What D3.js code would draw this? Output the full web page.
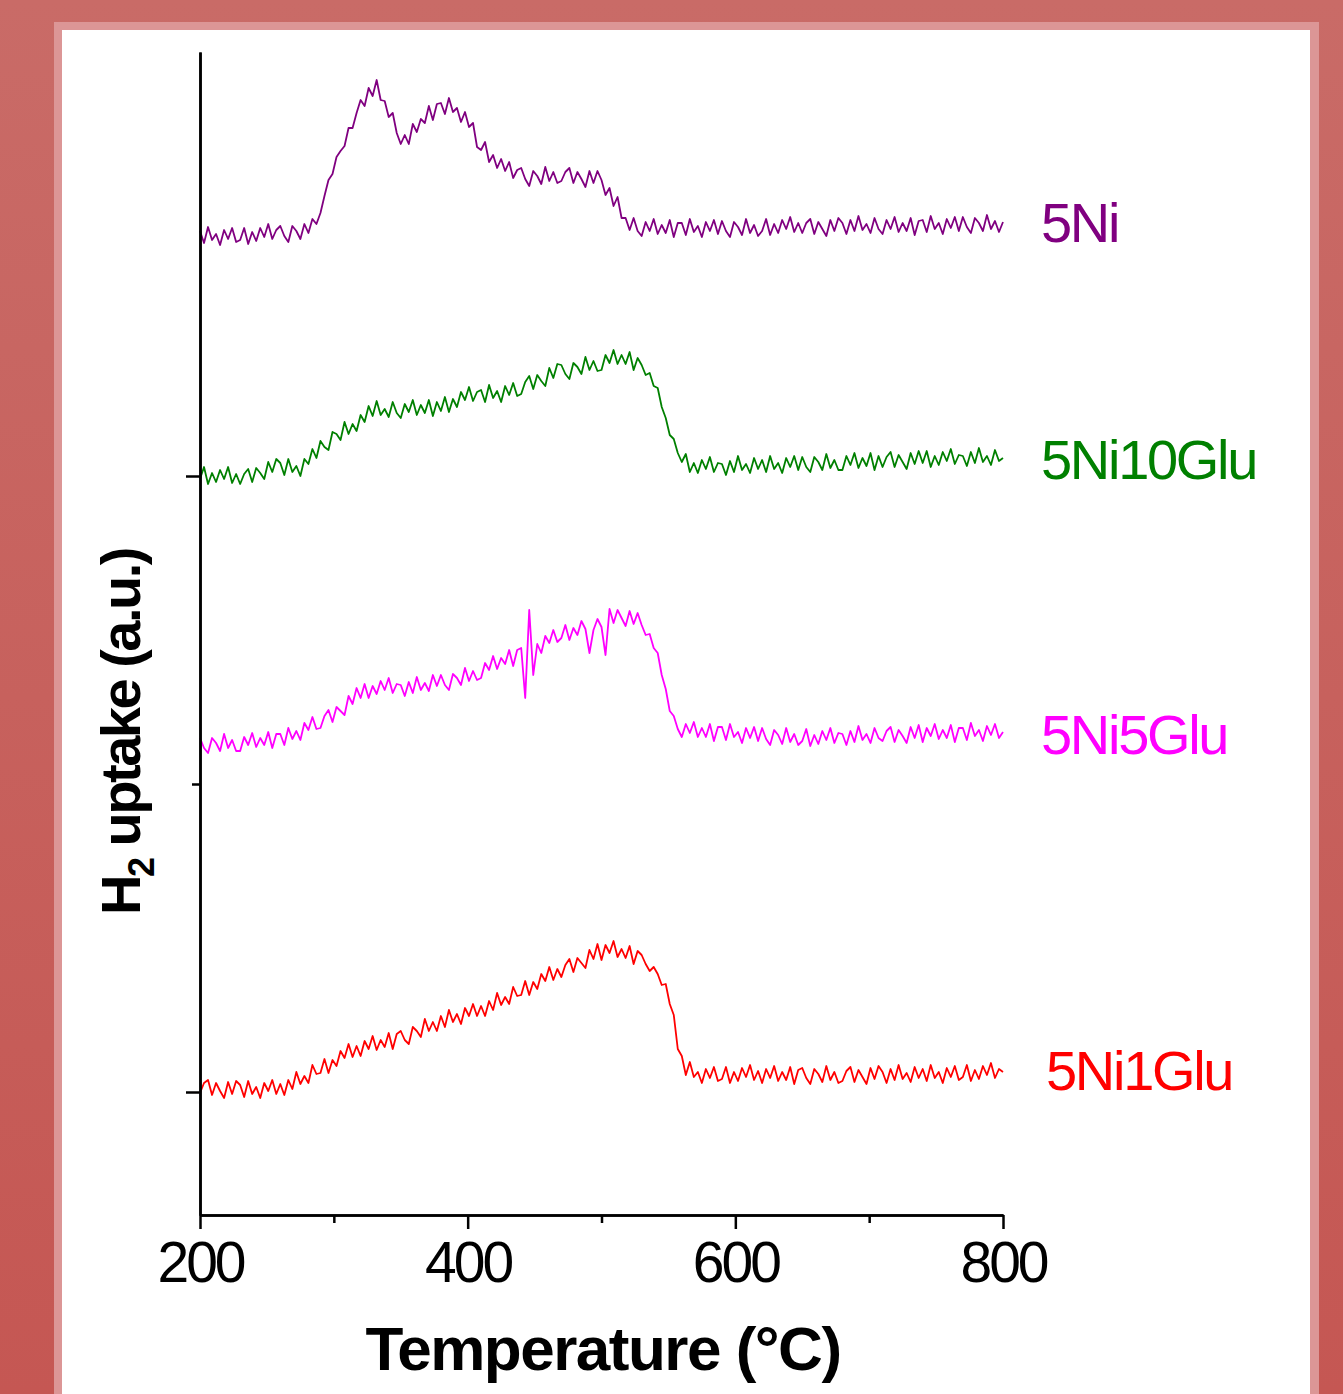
<!DOCTYPE html>
<html>
<head>
<meta charset="utf-8">
<script src="https://cdn.jsdelivr.net/npm/d3@7"></script>
<style>
  body { margin: 0; background: #fff; }
</style>
</head>
<body>
<div id="chart"></div>
<script>
	var w = 1343;
	var h = 1394;

	// samples, top to bottom
	var names = ["5Ni", "5Ni10Glu", "5Ni5Glu", "5Ni1Glu"];
	// vertical offset of each trace (a.u.)
	var offsets = [979, 740, 470, 128];
	var tRange = [200, 800];
	var xMajor = [200, 400, 600, 800];
	var xMinor = [300, 500, 700];
	var yMajor = [123, 739];
	var yMinor = [431];

	// H2 signal above each offset, read every 3 degC from 200 to 800
	var ni5 = [
		5,-7,9,-4,2,-9,6,-3,8,-6,
		-4,8,-8,4,-5,8,-1,12,-3,6,
		10,0,-6,10,5,-3,12,3,17,12,
		23,40,56,62,79,85,90,108,108,123,
		136,130,148,140,156,136,135,119,123,103,
		92,101,92,112,104,117,113,130,116,132,
		133,122,138,124,128,114,124,109,113,89,
		86,94,74,81,68,77,65,74,58,66,
		68,57,50,65,60,52,69,55,64,53,
		55,64,68,53,64,57,49,65,53,65,
		56,41,48,30,39,18,18,6,18,5,
		0,14,5,17,2,11,3,16,-1,13,
		13,1,17,4,10,-1,14,5,16,2,
		15,5,-1,14,9,1,17,3,11,0,
		5,17,1,12,3,16,7,19,4,13,
		3,13,17,2,14,7,0,16,5,18,
		13,2,16,5,20,6,12,3,18,7,
		2,16,7,19,4,13,5,18,1,15,
		16,4,20,7,13,2,17,8,19,5,
		19,9,3,18,13,5,21,7,15,4,
		14
	];
	var ni5glu10 = [
		-4,8,-9,2,-7,5,-4,8,-8,1,
		-9,1,6,-7,7,2,-4,13,3,16,
		12,0,16,3,9,-1,16,11,26,17,
		34,28,25,43,41,35,53,41,51,44,
		60,53,69,59,74,60,66,58,73,62,
		57,71,63,75,60,70,62,75,59,73,
		64,78,63,76,68,83,75,88,74,83,
		85,73,90,77,84,73,89,80,92,79,
		81,93,99,86,100,94,89,107,97,111,
		110,101,96,112,108,101,118,105,114,104,
		105,120,112,125,111,120,111,123,105,117,
		110,100,102,89,87,68,57,40,36,22,
		13,21,3,12,2,15,6,18,3,12,
		11,0,14,3,19,5,11,2,17,6,
		15,3,19,6,12,2,17,8,19,5,
		18,8,3,18,13,5,21,7,15,5,
		5,19,10,22,7,17,9,22,5,19,
		8,18,23,8,20,13,6,22,11,24,
		12,24,8,19,10,23,14,26,11,20,
		19,9,23,12,27,13,19,10,25,14,
		17
	];
	var ni5glu5 = [
		7,-3,-8,7,2,-6,11,-3,5,-6,
		-6,8,0,12,-2,7,0,13,-3,11,
		11,0,17,6,14,5,22,15,28,16,
		17,29,35,23,38,34,30,49,41,57,
		47,61,47,59,51,64,55,67,52,61,
		60,49,63,52,68,55,62,54,70,59,
		70,60,55,71,67,60,77,64,74,65,
		67,82,75,89,76,87,81,95,79,95,
		97,47,135,70,101,92,109,102,115,103,
		107,120,105,117,110,124,116,92,115,126,
		118,90,136,122,135,127,119,134,121,132,
		120,110,111,97,92,70,56,34,29,16,
		8,21,12,23,8,17,8,21,4,18,
		18,5,21,8,13,2,17,7,18,4,
		17,6,0,15,10,1,17,3,11,0,
		4,16,-1,10,1,14,5,17,2,12,
		11,0,14,3,19,5,11,2,17,7,
		4,14,18,3,15,9,2,18,7,20,
		3,17,9,21,6,15,7,20,3,17,
		17,5,22,9,15,4,19,10,21,7,
		13
	];
	var ni5glu1 = [
		-6,4,7,-8,4,-4,-11,5,-7,6,
		2,-10,6,-7,0,-11,4,-4,7,-7,
		3,-8,7,-2,15,3,11,4,22,13,
		14,28,14,27,21,36,29,43,30,41,
		31,46,38,51,37,47,40,54,38,53,
		56,47,43,60,56,50,68,56,65,56,
		71,60,77,65,73,63,79,71,83,71,
		81,71,86,77,94,82,90,83,100,91,
		92,106,92,105,98,113,106,120,107,118,
		110,122,128,115,129,124,119,137,128,143,
		127,142,134,146,130,138,129,141,123,136,
		132,123,116,120,113,102,103,83,72,38,
		31,12,25,10,15,4,18,9,20,6,
		8,20,4,15,6,19,10,22,7,16,
		4,18,9,21,6,15,7,20,3,17,
		19,9,3,18,13,5,21,7,15,4,
		6,16,20,5,17,10,3,19,8,21,
		15,4,18,7,22,8,14,5,20,9,
		18,6,22,9,15,4,19,10,21,7,
		10,22,6,17,8,21,12,24,9,18,
		15
	];
	var signals = [ni5, ni5glu10, ni5glu5, ni5glu1];

	var colors = ["#800080", "#008000", "#ff00ff", "#ff0000"];
	var labelPos = [[1041, 242], [1041, 479], [1041, 754], [1046, 1090]];

	var svg1 = d3.select("#chart")
		.append("svg")
		.attr("width", w)
		.attr("height", h)
		.style("display", "block");

	// frame
	var grad = svg1.append("defs").append("linearGradient")
		.attr("id", "bg").attr("x1", 0).attr("y1", 0).attr("x2", 0).attr("y2", 1);
	grad.append("stop").attr("offset", "0%").attr("stop-color", "#c96b67");
	grad.append("stop").attr("offset", "100%").attr("stop-color", "#c55753");
	svg1.append("rect").attr("width", w).attr("height", h).attr("fill", "url(#bg)");
	svg1.append("rect").attr("x", 54).attr("y", 22).attr("width", 1265).attr("height", h)
		.attr("fill", "#dc9696");
	svg1.append("rect").attr("x", 62).attr("y", 30).attr("width", 1248).attr("height", h)
		.attr("fill", "#ffffff");

	var xScale = d3.scaleLinear().domain(tRange).range([200, 1003]);
	var yScale = d3.scaleLinear().domain([0, 1163]).range([1215, 52]);

	//draw traces
	signals.forEach(function(sig, k) {
		var n = sig.length;
		var line = d3.line()
			.x(function(d, i) { return xScale(tRange[0] + i * (tRange[1] - tRange[0]) / (n - 1)); })
			.y(function(d) { return yScale(offsets[k] + d); });
		svg1.append("path")
			.datum(sig)
			.attr("d", line)
			.attr("fill", "none")
			.attr("stroke", colors[k])
			.attr("stroke-width", 1.8)
			.attr("stroke-linejoin", "round");

		svg1.append("text")
			.attr("x", labelPos[k][0])
			.attr("y", labelPos[k][1])
			.attr("fill", colors[k])
			.style("font-family", "'Liberation Sans', Arial, sans-serif")
			.style("font-size", "56px")
			.style("letter-spacing", "-2.3px")
			.text(names[k]);
	});

	//draw axes
	function styleAxis(g) {
		g.select(".domain").attr("stroke", "#000").attr("stroke-width", 2.5);
		g.selectAll(".tick line").attr("stroke", "#000").attr("stroke-width", 2.5);
	}

	svg1.append("g")
		.attr("transform", "translate(0,1215)")
		.call(d3.axisBottom(xScale).tickValues(xMinor).tickSize(8).tickSizeOuter(0).tickFormat(""))
		.call(styleAxis);

	var xg = svg1.append("g")
		.attr("transform", "translate(0,1215)")
		.call(d3.axisBottom(xScale).tickValues(xMajor).tickSize(14).tickSizeOuter(0).tickPadding(10))
		.call(styleAxis);
	xg.selectAll(".tick text")
		.attr("dy", "0.75em")
		.style("font-family", "'Liberation Sans', Arial, sans-serif")
		.style("font-size", "57px")
		.style("letter-spacing", "-3px")
		.attr("fill", "#000");

	svg1.append("g")
		.attr("transform", "translate(200,0)")
		.call(d3.axisLeft(yScale).tickValues(yMinor).tickSize(8).tickSizeOuter(0).tickFormat(""))
		.call(styleAxis);
	svg1.append("g")
		.attr("transform", "translate(200,0)")
		.call(d3.axisLeft(yScale).tickValues(yMajor).tickSize(14).tickSizeOuter(0).tickFormat(""))
		.call(styleAxis);

	// axis titles
	svg1.append("text")
		.attr("x", 603)
		.attr("y", 1370)
		.attr("text-anchor", "middle")
		.style("font-family", "'Liberation Sans', Arial, sans-serif")
		.style("font-size", "62px")
		.style("font-weight", "bold")
		.style("letter-spacing", "-1.5px")
		.text("Temperature (°C)");

	var yt = svg1.append("text")
		.attr("transform", "translate(140,732) rotate(-90)")
		.attr("text-anchor", "middle")
		.style("font-family", "'Liberation Sans', Arial, sans-serif")
		.style("font-size", "56px")
		.style("font-weight", "bold")
		.style("letter-spacing", "-2.5px");
	yt.append("tspan").text("H");
	yt.append("tspan").attr("dy", 14).style("font-size", "36px").text("2");
	yt.append("tspan").attr("dy", -14).text(" uptake (a.u.)");
</script>
</body>
</html>
